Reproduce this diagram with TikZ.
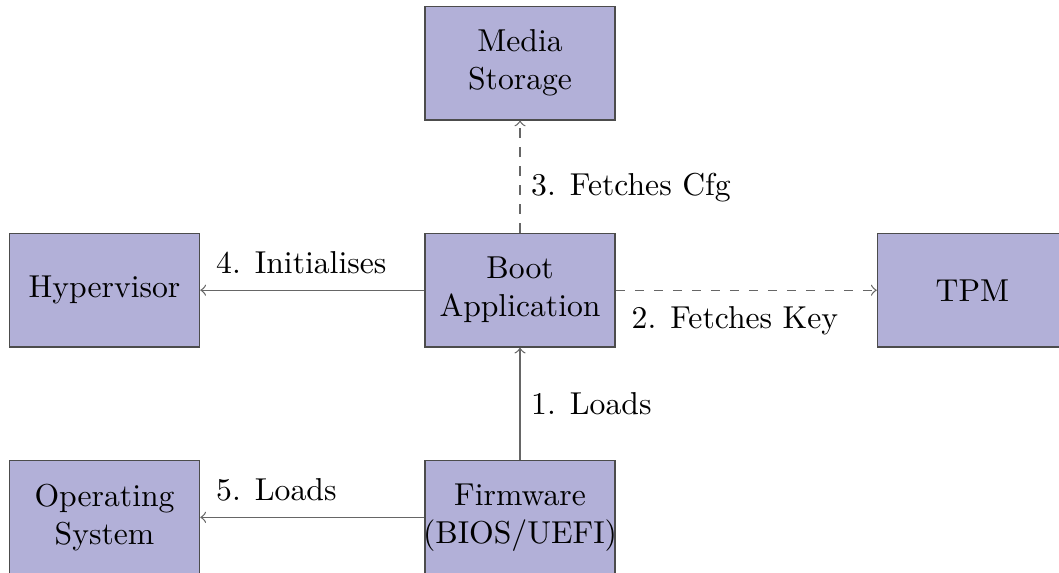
\documentclass[tikz,border=0pt]{standalone}
\definecolor{bootblue}{RGB}{178,176,216}

\begin{document}
\begin{tikzpicture}[auto]

%
% Styles
%
\tikzstyle{component} = [rectangle,draw=black!70,fill=bootblue,align=center,minimum width=2.11cm,minimum height=1.26cm,inner sep=1pt]
\tikzstyle{action} = [draw=black!60,->]
\tikzstyle{fetch} = [action,dashed]
\tikzstyle{note} = [text=black,inner ysep=5pt]

\useasboundingbox (-5.77,-3.13) rectangle (5.98,3.22);

\node[component] (boot)  at (    0,     0) {Boot\\Application};
\node[component] (media) at (    0,  2.52) {Media\\Storage};
\node[component] (fw)    at (    0, -2.52) {Firmware\\\makebox[1.9cm]{(BIOS/UEFI)}};
\node[component] (hyp)   at (-4.61,     0) {Hypervisor};
\node[component] (os)    at (-4.61, -2.52) {Operating\\System};
\node[component] (tpm)   at ( 5.02,     0) {TPM};

\path (fw)   edge [action] node[note,anchor=west,pos=0.5]                {1. Loads} (boot);
\path (boot) edge [fetch]  node[note,anchor=north west,pos=0,xshift=1.5pt] {2. Fetches Key} (tpm);
\path (boot) edge [fetch]  node[note,anchor=west,pos=0.4]                {3. Fetches Cfg} (media);
\path (boot) edge [action] node[note,anchor=south west,pos=1,xshift=1.5pt] {4. Initialises} (hyp);
\path (fw)   edge [action] node[note,anchor=south west,pos=1,xshift=1.5pt] {5. Loads} (os);

\end{tikzpicture}
\end{document}
